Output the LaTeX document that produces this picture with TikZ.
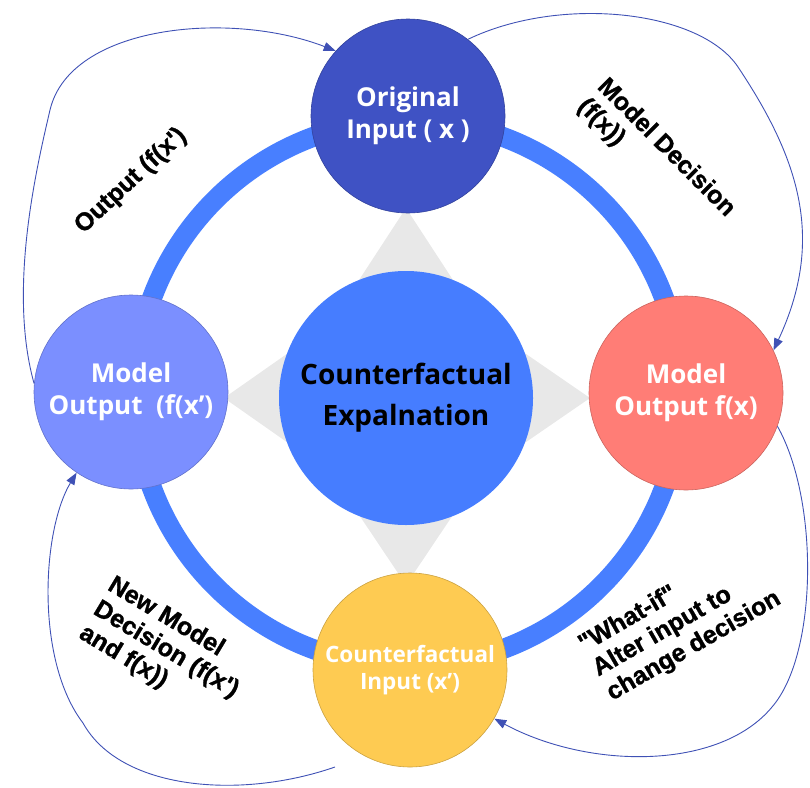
\documentclass[tikz,border=0pt]{standalone}
\usepackage{fontspec}
\setmainfont{Open Sans}
\newfontfamily\labelfont[BoldFeatures={FakeBold=1.2}]{Liberation Sans}
\usetikzlibrary{arrows.meta}

\definecolor{ringblue}{RGB}{72,127,255}
\definecolor{coreblue}{RGB}{70,125,255}
\definecolor{topblue}{RGB}{63,82,196}
\definecolor{leftblue}{RGB}{123,143,255}
\definecolor{salmon}{RGB}{255,125,118}
\definecolor{amber}{RGB}{254,203,82}
\definecolor{stargray}{RGB}{232,232,232}
\definecolor{arrowblue}{RGB}{63,81,181}

\begin{document}
\begin{tikzpicture}[x=1pt,y=-1pt,
  stage/.style={circle, minimum size=194pt, inner sep=0pt, align=center,
    text=white, line width=0.6pt, font=\bfseries\fontsize{26}{32}\selectfont},
  flow/.style={draw=arrowblue, line width=0.9pt,
    -{Triangle[length=12pt,width=9pt]}},
  note/.style={font=\labelfont\bfseries\fontsize{25}{28}\selectfont,
    align=left, inner sep=0pt, text=black}]

\useasboundingbox (0,0) rectangle (810,787);

% outer ring linking the four stages
\draw[ringblue, line width=20pt] (408,393) circle[radius=273];

% four-pointed star behind the core
\fill[stargray] (406,208) -- (331,323) -- (224,398) -- (331,473)
  -- (406,585) -- (481,473) -- (590,398) -- (481,323) -- cycle;

% core concept
\node[circle, minimum size=254pt, inner sep=0pt, fill=coreblue, align=center,
  text=black, font=\bfseries\fontsize{28}{41}\selectfont]
  (core) at (406,398) {Counterfactual\\Expalnation};

% the four stages
\node[stage, fill=topblue, draw=topblue!80!black] (orig) at (408,116)
  {Original\\Input ( x )};
\node[stage, fill=salmon, draw=salmon!80!black] (fx) at (686,393)
  {Model\\Output f(x)};
\node[stage, fill=amber, draw=amber!80!black,
  font=\bfseries\fontsize{22.5}{27}\selectfont] (cfin) at (410,670)
  {Counterfactual\\Input (x')};
\node[stage, fill=leftblue, draw=leftblue!80!black] (fxp) at (131,392)
  {Model\\Output~~(f(x')};

% cycle arrows
\coordinate (s4) at (335,767);
\draw[flow] (fxp.175) .. controls (8,290) and (36,170) .. (50,110)
  .. controls (70,25) and (230,10) .. (orig.138);
\draw[flow] (orig.52) .. controls (560,-5) and (700,10) .. (738,67)
  .. controls (800,160) and (825,240) .. (fx.26);
\draw[flow] (fx.-20) .. controls (819,500) and (818,654) .. (772,707)
  .. controls (720,770) and (590,770) .. (cfin.-30);
\draw[flow] (s4) .. controls (240,800) and (120,790) .. (83,723)
  .. controls (35,660) and (42,530) .. (fxp.236);

% arrow labels
\node[note, rotate=43] (l1) at (131,181) {Output (f(x')};
\node[note, rotate=-45] (l2) at (656,158) {Model Decision\\(f(x))};
\node[note, rotate=-31] (l3) at (166,650) {New Model\\Decision (f(x')\\and f(x))};
\node[note, rotate=30] (l4) at (680,622) {"What-if"\\Alter input to\\change decision};

\end{tikzpicture}
\end{document}
